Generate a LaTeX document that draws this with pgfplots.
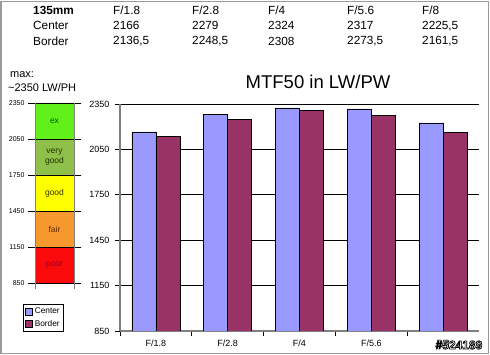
\documentclass[border=0pt]{standalone}
\usepackage{pgfplots}
\pgfplotsset{compat=1.18}
\usepackage{pgfplotstable}
\usepackage{fontspec}
\setmainfont{Liberation Sans}
\definecolor{cen}{HTML}{9999FF}
\definecolor{bor}{HTML}{993366}
\definecolor{exg}{HTML}{62F01A}
\definecolor{vgg}{HTML}{8FC04A}
\definecolor{gdy}{HTML}{FFFF00}
\definecolor{frf}{HTML}{F7982E}
\definecolor{prr}{HTML}{FA0A0A}
\definecolor{axg}{HTML}{808080}
\pgfplotstableread{
x center border
0 2166 2136.5
1 2279 2248.5
2 2324 2308
3 2317 2273.5
4 2225.5 2161.5
}\mtf
\begin{document}
\begin{tikzpicture}
\fill[white] (0pt,0pt) rectangle (490pt,355pt);
% top table
\begin{scope}[every node/.style={anchor=west, inner sep=0pt, font=\fontsize{11.8}{13}\selectfont}]
\node[font=\fontsize{11.8}{13}\selectfont\bfseries] at (33pt,344.3pt) {135mm};
\node at (113pt,344.3pt) {F/1.8};
\node at (192pt,344.3pt) {F/2.8};
\node at (268pt,344.3pt) {F/4};
\node at (347pt,344.3pt) {F/5.6};
\node at (422pt,344.3pt) {F/8};
\node at (33pt,329.3pt) {Center};
\node at (113pt,329.3pt) {2166};
\node at (192pt,329.3pt) {2279};
\node at (268pt,329.3pt) {2324};
\node at (347pt,329.3pt) {2317};
\node at (422pt,329.3pt) {2225,5};
\node at (33pt,314pt) {Border};
\node at (113pt,314pt) {2136,5};
\node at (192pt,314pt) {2248,5};
\node at (268pt,314pt) {2308};
\node at (347pt,314pt) {2273,5};
\node at (422pt,314pt) {2161,5};
\end{scope}
\node[anchor=west, inner sep=0pt, font=\fontsize{11}{12}\selectfont] at (10pt,280pt) {max:};
\node[anchor=west, inner sep=0pt, font=\fontsize{11}{12}\selectfont] at (8pt,267pt) {\textasciitilde 2350 LW/PH};
\node[inner sep=0pt, font=\fontsize{18.5}{20}\selectfont] at (318pt,273.5pt) {MTF50 in LW/PW};
% main axis
\begin{axis}[
  at={(120pt,24pt)}, anchor=south west, scale only axis,
  width=359pt, height=227pt,
  ybar=0pt, bar width=24pt,
  xmin=-0.5, xmax=4.5, ymin=850, ymax=2350,
  ytick={850,1150,...,2350},
  xtick={-0.5,0.5,1.5,2.5,3.5}, xticklabels={},
  extra x ticks={0,1,2,3,4},
  extra x tick labels={F/1.8,F/2.8,F/4,F/5.6,F/8},
  extra x tick style={major tick length=0pt},
  axis x line*=bottom, axis y line*=left,
  axis line style={draw=axg, line width=1.5pt, -},
  every outer x axis line/.append style={-},
  every outer y axis line/.append style={-},
  tick align=outside, major tick length=5pt,
  tick style={black, line width=0.8pt},
  ymajorgrids, grid style={black, line width=0.8pt},
  /pgf/number format/assume math mode=true,
  /pgf/number format/1000 sep={},
  yticklabel style={font=\fontsize{9}{10}\selectfont, xshift=-2pt},
  xticklabel style={font=\fontsize{9}{10}\selectfont, yshift=-5pt},
  legend style={at={(-0.270,-0.004)}, anchor=south west, draw=black, line width=0.5pt,
    font=\fontsize{8.3}{9}\selectfont, inner sep=2pt, row sep=1pt, cells={anchor=west}},
  legend image code/.code={\draw[#1, line width=0.5pt] (0pt,-3.5pt) rectangle (7pt,3.5pt);},
]
\addplot[fill=cen, draw=black, line width=0.6pt] table[x=x,y=center]{\mtf};
\addplot[fill=bor, draw=black, line width=0.6pt] table[x=x,y=border]{\mtf};
\legend{Center,Border}
\end{axis}
% quality scale
\begin{axis}[
  at={(35pt,66pt)}, anchor=south west, scale only axis,
  width=39pt, height=186pt,
  xmin=0, xmax=1, ymin=800, ymax=2350,
  axis x line=none, axis y line=box,
  axis line style={draw=axg, line width=1pt, -},
  ytick={850,1150,...,2350}, yticklabel pos=left,
  tick align=outside, major tick length=7pt,
  tick style={black, line width=0.8pt},
  ymajorgrids, grid style={black, line width=0.8pt},
  axis on top,
  /pgf/number format/assume math mode=true,
  /pgf/number format/1000 sep={},
  yticklabel style={font=\fontsize{7}{8}\selectfont},
]
\addplot[draw=none, fill=prr] coordinates {(0,850) (1,850) (1,1150) (0,1150) (0,850)};
\addplot[draw=none, fill=frf] coordinates {(0,1150) (1,1150) (1,1450) (0,1450) (0,1150)};
\addplot[draw=none, fill=gdy] coordinates {(0,1450) (1,1450) (1,1750) (0,1750) (0,1450)};
\addplot[draw=none, fill=vgg] coordinates {(0,1750) (1,1750) (1,2050) (0,2050) (0,1750)};
\addplot[draw=none, fill=exg] coordinates {(0,2050) (1,2050) (1,2350) (0,2350) (0,2050)};
\node[font=\fontsize{8.5}{9.5}\selectfont, text={rgb,255:red,0;green,90;blue,0}] at (axis cs:0.5,2200) {ex};
\node[font=\fontsize{8.5}{9.5}\selectfont, text={rgb,255:red,30;green,50;blue,0}, align=center, inner sep=0pt] at (axis cs:0.5,1900) {very\\good};
\node[font=\fontsize{8.5}{9.5}\selectfont, text={rgb,255:red,50;green,50;blue,0}] at (axis cs:0.5,1600) {good};
\node[font=\fontsize{8.5}{9.5}\selectfont, text={rgb,255:red,100;green,40;blue,0}] at (axis cs:0.5,1300) {fair};
\node[font=\fontsize{8.5}{9.5}\selectfont, text={rgb,255:red,150;green,0;blue,40}] at (axis cs:0.5,1000) {poor};
\end{axis}
% stamp (outlined text)
\node[inner sep=0pt, font=\fontsize{12}{13}\selectfont\bfseries, text=white] at (459pt,10pt)
  {\special{pdf:literal direct 0 G 0.7 w 2 Tr}\#524189\special{pdf:literal direct 0 Tr}};
\draw[axg!80, line width=1.2pt] (1pt,1.5pt) rectangle (488.5pt,353.5pt);
\pgfresetboundingbox
\path[use as bounding box] (0pt,0pt) rectangle (490pt,355pt);
\end{tikzpicture}
\end{document}
